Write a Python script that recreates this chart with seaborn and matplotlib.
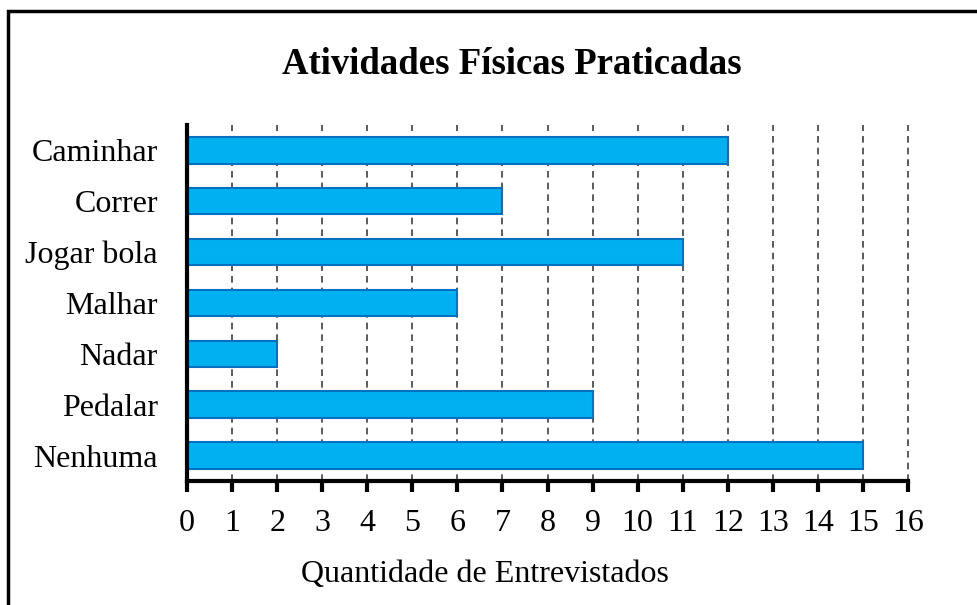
import matplotlib
matplotlib.use("Agg")
import matplotlib.pyplot as plt
import matplotlib.patches as patches
import seaborn as sns
import pandas as pd

# Chart data
atividades = ["Caminhar", "Correr", "Jogar bola", "Malhar", "Nadar", "Pedalar", "Nenhuma"]
quantidades = [12, 7, 11, 6, 2, 9, 15]
x_ticks = list(range(0, 17))

df = pd.DataFrame({"atividade": atividades, "quantidade": quantidades})

sns.set_style("white")
plt.rcParams["font.family"] = ["Liberation Serif", "DejaVu Serif"]
plt.rcParams["text.color"] = "black"
plt.rcParams["xtick.color"] = "black"
plt.rcParams["ytick.color"] = "black"

fig = plt.figure(figsize=(9.77, 6.05), dpi=100)
ax = fig.add_axes([0.1914, 0.2050, 0.738, 0.5884])

sns.barplot(data=df, x="quantidade", y="atividade", orient="h", color="#00B0F0",
            edgecolor="#0070C0", linewidth=1.5, width=0.52, saturation=1, ax=ax, zorder=3)

# Vertical dashed grid
for v in x_ticks[1:]:
    ax.axvline(v, color="#404040", linestyle=(0, (4, 3)), linewidth=1.2, zorder=1, clip_on=False)

ax.set_xlim(0, 16)
ax.set_ylim(6.5, -0.5)
ax.set_xticks(x_ticks)
ax.set_xticklabels([str(t) for t in x_ticks], fontsize=23)
ax.tick_params(axis="x", bottom=True, direction="out", length=8, width=3, color="black", pad=12)
ax.tick_params(axis="y", left=False, length=0, pad=21, labelsize=23)
ax.set_xlabel("")
ax.set_ylabel("")

for s in ["top", "right"]:
    ax.spines[s].set_visible(False)
for s in ["left", "bottom"]:
    ax.spines[s].set_color("black")
    ax.spines[s].set_linewidth(3)
    ax.spines[s].set_zorder(4)

fig.text(0.524, 0.8926, "Atividades Físicas Praticadas", ha="center", va="center",
         fontsize=26.5, fontweight="bold")
fig.text(0.4965, 0.0496, "Quantidade de Entrevistados", ha="center", va="center", fontsize=23)

# Outer frame (open at right and bottom edges)
frame = patches.Rectangle((8 / 977, -0.2), 1.5, 1.2 - 11 / 605, transform=fig.transFigure,
                          fill=False, edgecolor="black", linewidth=2.5, clip_on=False)
fig.patches.append(frame)

fig.savefig("out.png", dpi=100)
